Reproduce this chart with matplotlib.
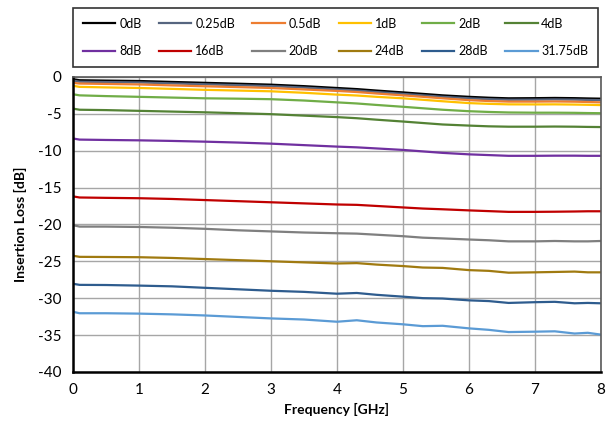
import numpy as np
import matplotlib
matplotlib.use("Agg")
import matplotlib.pyplot as plt

plt.rcParams['font.family'] = ['Lato', 'DejaVu Sans']
plt.rcParams['axes.unicode_minus'] = False

# frequency grid [GHz]
freq = [0, 0.1, 0.5, 1, 1.5, 2, 2.5, 3, 3.5, 4, 4.3, 4.6, 5, 5.3, 5.6, 6, 6.3, 6.6, 7, 7.3, 7.6, 7.8, 8]

# insertion loss per attenuation state [dB]
il_0 = [-0.3, -0.45, -0.5, -0.55, -0.68, -0.8, -0.92, -1.05, -1.25, -1.5, -1.65, -1.85, -2.1, -2.3, -2.5, -2.7, -2.82, -2.9, -2.88, -2.85, -2.88, -2.92, -2.95]
il_025 = [-0.5, -0.65, -0.7, -0.75, -0.88, -1.0, -1.12, -1.25, -1.45, -1.7, -1.85, -2.05, -2.3, -2.5, -2.7, -2.9, -3.02, -3.1, -3.08, -3.05, -3.08, -3.12, -3.15]
il_05 = [-0.8, -0.9, -0.95, -1.02, -1.15, -1.27, -1.38, -1.5, -1.7, -1.9, -2.05, -2.25, -2.5, -2.7, -2.9, -3.15, -3.27, -3.35, -3.35, -3.33, -3.36, -3.4, -3.45]
il_1 = [-1.2, -1.35, -1.42, -1.5, -1.62, -1.75, -1.85, -1.95, -2.15, -2.4, -2.52, -2.7, -2.9, -3.1, -3.3, -3.55, -3.65, -3.72, -3.73, -3.72, -3.75, -3.78, -3.82]
il_2 = [-2.35, -2.5, -2.6, -2.7, -2.8, -2.9, -2.95, -3.02, -3.2, -3.45, -3.6, -3.8, -4.05, -4.25, -4.45, -4.65, -4.75, -4.82, -4.85, -4.85, -4.87, -4.9, -4.92]
il_4 = [-4.3, -4.45, -4.5, -4.6, -4.7, -4.8, -4.92, -5.05, -5.25, -5.45, -5.6, -5.8, -6.05, -6.25, -6.45, -6.6, -6.7, -6.75, -6.75, -6.73, -6.75, -6.78, -6.8]
il_8 = [-8.35, -8.5, -8.55, -8.6, -8.68, -8.78, -8.9, -9.05, -9.25, -9.45, -9.55, -9.7, -9.9, -10.1, -10.3, -10.5, -10.6, -10.7, -10.7, -10.68, -10.68, -10.7, -10.7]
il_16 = [-16.2, -16.35, -16.4, -16.45, -16.55, -16.7, -16.85, -17.0, -17.15, -17.3, -17.35, -17.5, -17.7, -17.85, -17.95, -18.1, -18.2, -18.3, -18.3, -18.28, -18.25, -18.22, -18.22]
il_20 = [-20.1, -20.3, -20.3, -20.35, -20.45, -20.6, -20.8, -20.95, -21.1, -21.2, -21.25, -21.4, -21.6, -21.8, -21.9, -22.05, -22.15, -22.3, -22.3, -22.25, -22.3, -22.3, -22.25]
il_24 = [-24.25, -24.4, -24.42, -24.45, -24.55, -24.7, -24.85, -25.0, -25.15, -25.3, -25.25, -25.45, -25.65, -25.85, -25.9, -26.2, -26.3, -26.55, -26.5, -26.45, -26.4, -26.5, -26.5]
il_28 = [-28.05, -28.2, -28.22, -28.3, -28.4, -28.6, -28.8, -29.0, -29.15, -29.4, -29.3, -29.55, -29.8, -30.0, -30.05, -30.3, -30.4, -30.65, -30.55, -30.5, -30.7, -30.65, -30.7]
il_3175 = [-31.85, -32.05, -32.05, -32.1, -32.2, -32.35, -32.55, -32.75, -32.9, -33.2, -33.0, -33.3, -33.55, -33.8, -33.75, -34.1, -34.3, -34.6, -34.55, -34.5, -34.8, -34.7, -34.95]

labels = ['0dB', '0.25dB', '0.5dB', '1dB', '2dB', '4dB',
          '8dB', '16dB', '20dB', '24dB', '28dB', '31.75dB']
series = [il_0, il_025, il_05, il_1, il_2, il_4,
          il_8, il_16, il_20, il_24, il_28, il_3175]
colors = ['#000000', '#56657f', '#ED7D31', '#FFC000', '#70AD47', '#548235',
          '#7030A0', '#C00000', '#7F7F7F', '#A07A10', '#2E5C8E', '#5B9BD5']

fig = plt.figure(figsize=(6.08, 4.25), dpi=100)
ax = fig.add_axes([0.12, 0.125, 0.8685, 0.694])

lines = []
for vals, lab, c in zip(series, labels, colors):
    ln, = ax.plot(freq, vals, color=c, lw=1.6, label=lab)
    lines.append(ln)

ax.set_xlim(0, 8)
ax.set_ylim(-40, 0)
ax.set_xticks(np.arange(0, 9, 1))
ax.set_yticks(np.arange(-40, 1, 5))
ax.grid(True, color='#a6a6a6', lw=1.0)
ax.set_axisbelow(True)
ax.tick_params(length=0, labelsize=11, pad=8)

for side in ['left', 'bottom']:
    ax.spines[side].set_color('black')
    ax.spines[side].set_linewidth(1.8)
for side in ['top', 'right']:
    ax.spines[side].set_color('#595959')
    ax.spines[side].set_linewidth(1.2)

ax.set_xlabel('Frequency [GHz]', fontsize=10, fontweight='bold', labelpad=4)
ax.set_ylabel('Insertion Loss [dB]', fontsize=10, fontweight='bold', labelpad=8)

# legend fills column by column, so interleave to get row-wise order
ncol = 6
order = [r * ncol + c for c in range(ncol) for r in range(2)]
leg = fig.legend([lines[i] for i in order], [labels[i] for i in order],
                 loc='lower left', bbox_to_anchor=(0.12, 0.842, 0.864, 0.139),
                 mode='expand', ncol=ncol, fontsize=9, frameon=True, fancybox=False,
                 handlelength=2.6, handletextpad=0.3, borderaxespad=0,
                 labelspacing=1.25, borderpad=0.8)
leg.get_frame().set_edgecolor('black')
leg.get_frame().set_linewidth(1.2)

fig.savefig('out.png', dpi=100)
